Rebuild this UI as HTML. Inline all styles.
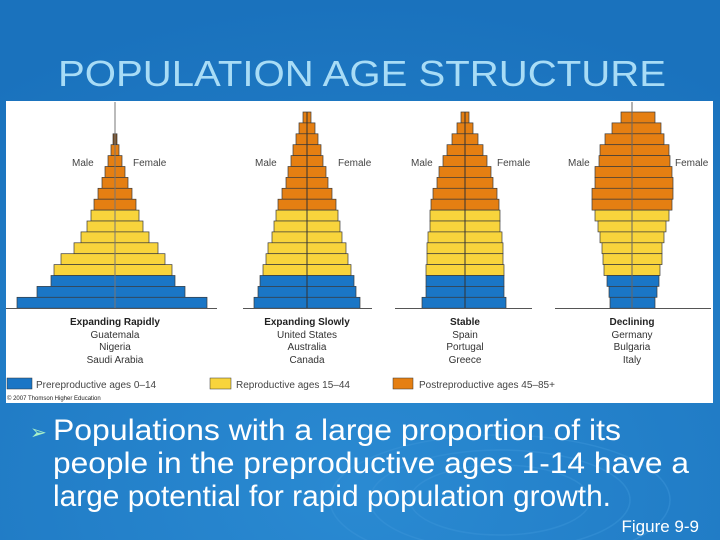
<!DOCTYPE html>
<html><head><meta charset="utf-8"><style>
html,body{margin:0;padding:0;width:720px;height:540px;overflow:hidden;background:#1e7cc4}
svg{display:block}
</style></head><body>
<svg width="720" height="540" viewBox="0 0 720 540" xmlns="http://www.w3.org/2000/svg" font-family="Liberation Sans, Arial, sans-serif">
<defs>
<radialGradient id="bg" cx="0.5" cy="0.9" r="0.9">
<stop offset="0" stop-color="#2a8ad2"/><stop offset="1" stop-color="#1a72bd"/>
</radialGradient>
</defs>
<rect width="720" height="540" fill="url(#bg)"/>
<g fill="none" stroke="#3a94d8" stroke-width="1.5" opacity="0.5">
<ellipse cx="500" cy="500" rx="90" ry="35"/><ellipse cx="500" cy="500" rx="130" ry="50"/><ellipse cx="500" cy="500" rx="170" ry="65"/>
</g>
<text x="362" y="86" text-anchor="middle" font-size="36" fill="#a8dcf6" textLength="608" lengthAdjust="spacingAndGlyphs">POPULATION AGE STRUCTURE</text>
<rect x="6" y="101" width="707" height="302" fill="#ffffff"/>
<g stroke="#3a3a3a" stroke-width="0.7">
<rect x="113" y="133.8" width="4" height="10.9" fill="#7a4a1a"/>
<g fill="#e57f12">
<rect x="111" y="144.7" width="8" height="10.9"/>
<rect x="108" y="155.6" width="14" height="10.9"/>
<rect x="105" y="166.5" width="20" height="10.9"/>
<rect x="102" y="177.4" width="26" height="10.9"/>
<rect x="98" y="188.3" width="34" height="10.9"/>
<rect x="94" y="199.2" width="42" height="10.9"/>
</g>
<g fill="#f8d43c">
<rect x="91" y="210.1" width="48" height="10.9"/>
<rect x="87" y="221" width="56" height="10.9"/>
<rect x="81" y="231.9" width="68" height="10.9"/>
<rect x="74" y="242.8" width="84" height="10.9"/>
<rect x="61" y="253.7" width="104" height="10.9"/>
<rect x="54" y="264.6" width="118" height="10.9"/>
</g>
<g fill="#1a76c6">
<rect x="51" y="275.5" width="124" height="10.9"/>
<rect x="37" y="286.4" width="148" height="10.9"/>
<rect x="17" y="297.3" width="190" height="10.9"/>
</g>
<g fill="#e57f12">
<rect x="303" y="112" width="8" height="10.9"/>
<rect x="299" y="122.9" width="16" height="10.9"/>
<rect x="296" y="133.8" width="22" height="10.9"/>
<rect x="293" y="144.7" width="28" height="10.9"/>
<rect x="291" y="155.6" width="32" height="10.9"/>
<rect x="288" y="166.5" width="38" height="10.9"/>
<rect x="286" y="177.4" width="42" height="10.9"/>
<rect x="282" y="188.3" width="50" height="10.9"/>
<rect x="278" y="199.2" width="58" height="10.9"/>
</g>
<g fill="#f8d43c">
<rect x="276" y="210.1" width="62" height="10.9"/>
<rect x="274" y="221" width="66" height="10.9"/>
<rect x="272" y="231.9" width="70" height="10.9"/>
<rect x="268" y="242.8" width="78" height="10.9"/>
<rect x="266" y="253.7" width="82" height="10.9"/>
<rect x="263" y="264.6" width="88" height="10.9"/>
</g>
<g fill="#1a76c6">
<rect x="260" y="275.5" width="94" height="10.9"/>
<rect x="258" y="286.4" width="98" height="10.9"/>
<rect x="254" y="297.3" width="106" height="10.9"/>
</g>
<g fill="#e57f12">
<rect x="461" y="112" width="8" height="10.9"/>
<rect x="457" y="122.9" width="16" height="10.9"/>
<rect x="452" y="133.8" width="26" height="10.9"/>
<rect x="447" y="144.7" width="36" height="10.9"/>
<rect x="443" y="155.6" width="44" height="10.9"/>
<rect x="439" y="166.5" width="52" height="10.9"/>
<rect x="437" y="177.4" width="56" height="10.9"/>
<rect x="433" y="188.3" width="64" height="10.9"/>
<rect x="431" y="199.2" width="68" height="10.9"/>
</g>
<g fill="#f8d43c">
<rect x="430" y="210.1" width="70" height="10.9"/>
<rect x="430" y="221" width="70" height="10.9"/>
<rect x="428" y="231.9" width="74" height="10.9"/>
<rect x="427" y="242.8" width="76" height="10.9"/>
<rect x="427" y="253.7" width="76" height="10.9"/>
<rect x="426" y="264.6" width="78" height="10.9"/>
</g>
<g fill="#1a76c6">
<rect x="426" y="275.5" width="78" height="10.9"/>
<rect x="426" y="286.4" width="78" height="10.9"/>
<rect x="422" y="297.3" width="84" height="10.9"/>
</g>
<g fill="#e57f12">
<rect x="621" y="112" width="34" height="10.9"/>
<rect x="612" y="122.9" width="49" height="10.9"/>
<rect x="605" y="133.8" width="59" height="10.9"/>
<rect x="600" y="144.7" width="69" height="10.9"/>
<rect x="599" y="155.6" width="71" height="10.9"/>
<rect x="595" y="166.5" width="77" height="10.9"/>
<rect x="595" y="177.4" width="78" height="10.9"/>
<rect x="592" y="188.3" width="81" height="10.9"/>
<rect x="592" y="199.2" width="80" height="10.9"/>
</g>
<g fill="#f8d43c">
<rect x="595" y="210.1" width="74" height="10.9"/>
<rect x="598" y="221" width="68" height="10.9"/>
<rect x="600" y="231.9" width="64" height="10.9"/>
<rect x="602" y="242.8" width="60" height="10.9"/>
<rect x="603" y="253.7" width="59" height="10.9"/>
<rect x="604" y="264.6" width="56" height="10.9"/>
</g>
<g fill="#1a76c6">
<rect x="607" y="275.5" width="52" height="10.9"/>
<rect x="609" y="286.4" width="48" height="10.9"/>
<rect x="610" y="297.3" width="45" height="10.9"/>
</g>
</g>
<g stroke="#333" stroke-width="1">
<line x1="115" y1="102" x2="115" y2="308" stroke="#777"/>
<line x1="307" y1="112" x2="307" y2="308"/>
<line x1="465" y1="112" x2="465" y2="308"/>
<line x1="632" y1="102" x2="632" y2="308" stroke="#666"/>
<line x1="6" y1="308.5" x2="217" y2="308.5" stroke="#555"/>
<line x1="243" y1="308.5" x2="372" y2="308.5" stroke="#555"/>
<line x1="395" y1="308.5" x2="532" y2="308.5" stroke="#555"/>
<line x1="555" y1="308.5" x2="711" y2="308.5" stroke="#555"/>
</g>
<g font-size="10" fill="#444">
<text x="72" y="166">Male</text><text x="133" y="166">Female</text>
<text x="255" y="166">Male</text><text x="338" y="166">Female</text>
<text x="411" y="166">Male</text><text x="497" y="166">Female</text>
<text x="568" y="166">Male</text><text x="675" y="166">Female</text>
</g>
<g font-size="10" fill="#333" text-anchor="middle">
<text x="115" y="325" font-weight="bold" fill="#222">Expanding Rapidly</text>
<text x="115" y="338">Guatemala</text><text x="115" y="350">Nigeria</text><text x="115" y="363">Saudi Arabia</text>
<text x="307" y="325" font-weight="bold" fill="#222">Expanding Slowly</text>
<text x="307" y="338">United States</text><text x="307" y="350">Australia</text><text x="307" y="363">Canada</text>
<text x="465" y="325" font-weight="bold" fill="#222">Stable</text>
<text x="465" y="338">Spain</text><text x="465" y="350">Portugal</text><text x="465" y="363">Greece</text>
<text x="632" y="325" font-weight="bold" fill="#222">Declining</text>
<text x="632" y="338">Germany</text><text x="632" y="350">Bulgaria</text><text x="632" y="363">Italy</text>
</g>
<rect x="7" y="378" width="25" height="11" fill="#1a76c6" stroke="#333" stroke-width="0.5"/>
<rect x="210" y="378" width="21" height="11" fill="#f8d43c" stroke="#333" stroke-width="0.5"/>
<rect x="393" y="378" width="20" height="11" fill="#e57f12" stroke="#333" stroke-width="0.5"/>
<g font-size="10" fill="#444">
<text x="36" y="388">Prereproductive ages 0–14</text>
<text x="236" y="388">Reproductive ages 15–44</text>
<text x="419" y="388">Postreproductive ages 45–85+</text>
</g>
<text x="7" y="400" font-size="6" fill="#222">© 2007 Thomson Higher Education</text>
<text x="30" y="439" font-size="20" fill="#a8f0c8">➢</text>
<g font-size="30" fill="#ffffff">
<text x="53" y="440" textLength="568" lengthAdjust="spacingAndGlyphs">Populations with a large proportion of its</text>
<text x="53" y="473" textLength="636" lengthAdjust="spacingAndGlyphs">people in the preproductive ages 1-14 have a</text>
<text x="53" y="506" textLength="558" lengthAdjust="spacingAndGlyphs">large potential for rapid population growth.</text>
</g>
<text x="699" y="532" font-size="17" fill="#ffffff" text-anchor="end">Figure 9-9</text>
</svg>
</body></html>
